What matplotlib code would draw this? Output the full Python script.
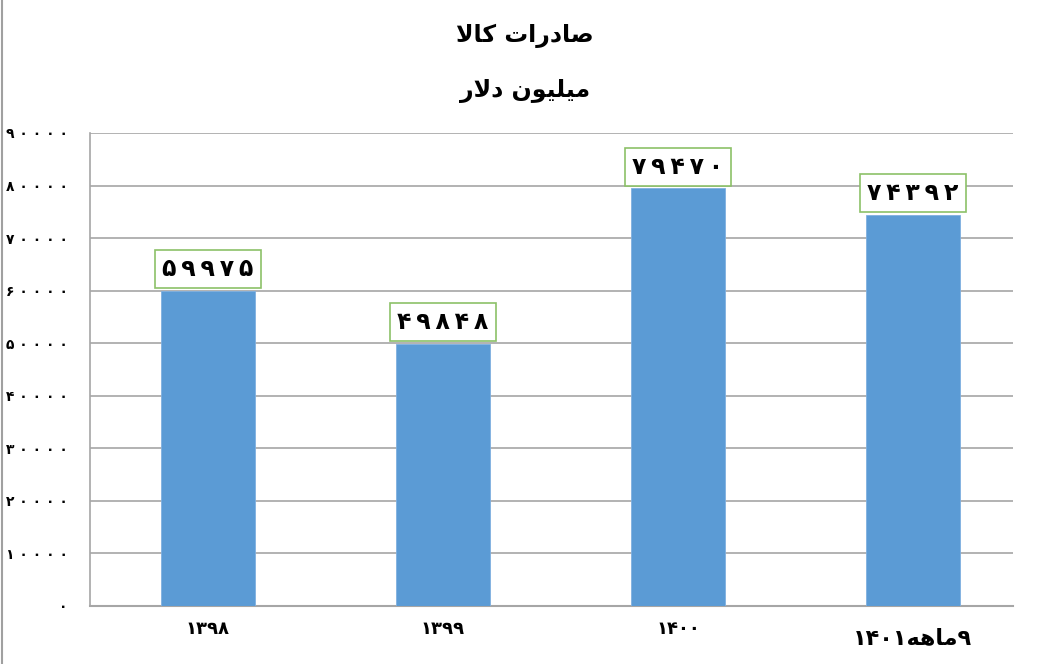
## bar chart: Iran goods exports (million dollars)

import numpy as np
import matplotlib
matplotlib.use("Agg")
import matplotlib.pyplot as plt
from matplotlib import rcParams
from matplotlib.lines import Line2D

rcParams.update({"font.family": ["DejaVu Sans"], "font.weight": "bold"})

# persian text written in visual (left-to-right) order with arabic presentation forms,
# since matplotlib does no shaping / bidi
title_1 = "\ufefb\ufe8e\ufb90 \ufe95\ufe8d\ufead\ufea9\ufe8e\ufebb"    # صادرات کالا
title_2 = "\ufead\ufefb\ufea9 \ufee5\ufeee\ufbff\ufee0\ufbff\ufee3"    # میلیون دلار

fa_digits = str.maketrans("0123456789", "۰۱۲۳۴۵۶۷۸۹")

categories = ["1398", "1399", "1400", "1401"]
values = [59975, 49848, 79470, 74392]
y_ticks = [0, 10000, 20000, 30000, 40000, 50000, 60000, 70000, 80000, 90000]
x_labels = [c.translate(fa_digits) for c in categories]
x_labels[3] = "۱۴۰۱" + "\ufeea\ufeeb\ufe8e\ufee3" + "۹"          # ۹ماهه۱۴۰۱

def fa(n, sep="\u2009"):
    return sep.join(str(n).translate(fa_digits))

fig = plt.figure(figsize=(10.61, 6.64), dpi=100)
ax = fig.add_axes([90/1061, 58/664, 923/1061, 473/664])

x = np.arange(len(values))
ax.bar(x, values, width=0.4, color="#5B9BD5", edgecolor="#7FB0E0", linewidth=0.6, zorder=3)

ax.set_xlim(-0.502, 3.426)
ax.set_ylim(0, 90000)
ax.set_yticks(y_ticks)
ax.set_yticklabels([fa(t, " ") for t in y_ticks], fontsize=10)
ax.set_xticks(x)
ax.set_xticklabels(x_labels, fontsize=13)
for i, lab in enumerate(ax.get_xticklabels()):
    if i == 3:
        lab.set_fontsize(16)
        lab.set_y(-0.018)
ax.tick_params(axis="x", length=0, pad=10)
ax.tick_params(axis="y", length=0, pad=16)
ax.grid(axis="y", color="#A6A6A6", linewidth=1.2, zorder=0)
for s in ["top", "right"]:
    ax.spines[s].set_visible(False)
ax.spines["left"].set_color("#A6A6A6")
ax.spines["bottom"].set_color("#A6A6A6")
ax.spines["left"].set_linewidth(1.2)
ax.spines["bottom"].set_linewidth(1.5)

for xi, v in zip(x, values):
    ax.annotate(fa(v), (xi, v), xytext=(0, 7),
                textcoords="offset points", ha="center", va="bottom", fontsize=17,
                bbox=dict(boxstyle="square,pad=0.3", fc="white", ec="#8CC168", lw=1.2),
                zorder=5)

fig.text(0.495, 1 - 36/664, title_1, ha="center", va="center", fontsize=17, fontweight="bold")
fig.text(0.495, 1 - 91/664, title_2, ha="center", va="center", fontsize=17, fontweight="bold")

# chart frame on the left edge
fig.add_artist(Line2D([1.5/1061, 1.5/1061], [0, 1], color="#A0A0A0", lw=1.5,
                      transform=fig.transFigure))

fig.savefig("out.png", dpi=100)
